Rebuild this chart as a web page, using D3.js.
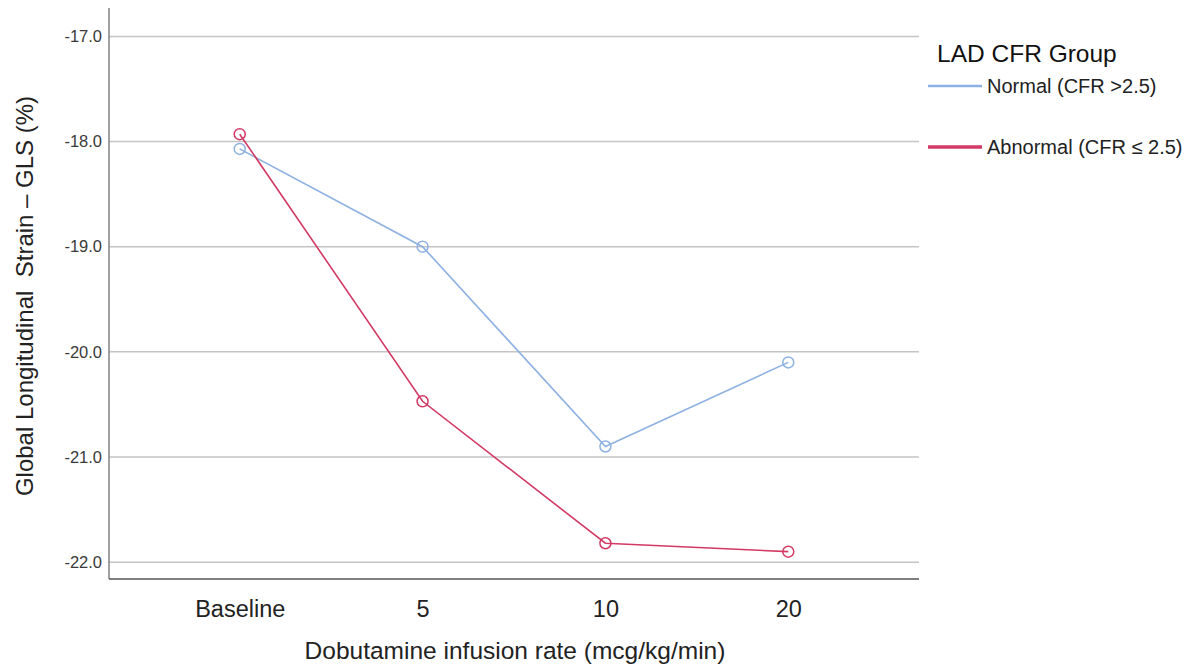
<!DOCTYPE html>
<html>
<head>
<meta charset="utf-8">
<script src="https://cdn.jsdelivr.net/npm/d3@7"></script>
<style>
  body { margin: 0; background: #fff; }
  text { font-family: "Liberation Sans", Arial, Helvetica, sans-serif; }
</style>
</head>
<body>
<svg id="chart" width="1191" height="671"></svg>
<script>
// Dobutamine stages (x categories)
const stages = ["Baseline", "5", "10", "20"];
// Mean GLS (%) per stage for each LAD CFR group
const normalGLS = [-18.07, -19.00, -20.90, -20.10];
const abnormalGLS = [-17.93, -20.47, -21.82, -21.90];
// Y tick values
const yTicks = [-17, -18, -19, -20, -21, -22];
const seriesNames = ["Normal (CFR >2.5)", "Abnormal (CFR \u2264 2.5)"];
const seriesColors = ["#8db1e2", "#d23a64"];

const svg = d3.select("#chart");
const plotL = 109, plotR = 919, plotT = 8, plotB = 579;

const x = d3.scalePoint().domain(stages).range([plotL, plotR]).padding(0.715);
const y = d3.scaleLinear().domain([-22.16, -16.73]).range([plotB, plotT]);

// Horizontal gridlines
svg.append("g").selectAll("line").data(yTicks).join("line")
  .attr("x1", plotL).attr("x2", plotR)
  .attr("y1", d => y(d)).attr("y2", d => y(d))
  .attr("stroke", "#c4c4c4").attr("stroke-width", 1.5);

// Y axis (plain hyphen for the sign, one decimal)
const yAxis = svg.append("g").attr("transform", `translate(${plotL},0)`)
  .call(d3.axisLeft(y).tickValues(yTicks).tickSize(0).tickPadding(7).tickFormat(d => d.toFixed(1)));
yAxis.select(".domain").remove();
yAxis.selectAll("text").attr("font-size", 16.5).attr("fill", "#3a3a3a")
  .style("font-family", "'Liberation Sans', Arial, sans-serif");
svg.append("line").attr("x1", plotL).attr("x2", plotL).attr("y1", plotT).attr("y2", plotB)
  .attr("stroke", "#8a8a8a").attr("stroke-width", 1.6);

// X axis
const xAxis = svg.append("g").attr("transform", `translate(0,${plotB})`)
  .call(d3.axisBottom(x).tickSize(0).tickPadding(21));
xAxis.select(".domain").remove();
xAxis.selectAll("text").attr("font-size", 23.5).attr("fill", "#222")
  .style("font-family", "'Liberation Sans', Arial, sans-serif");
svg.append("line").attr("x1", plotL).attr("x2", plotR).attr("y1", plotB).attr("y2", plotB)
  .attr("stroke", "#555").attr("stroke-width", 1.6);

// Axis titles
svg.append("text").attr("x", 515).attr("y", 659).attr("text-anchor", "middle")
  .attr("font-size", 24.5).attr("fill", "#222")
  .text("Dobutamine infusion rate (mcg/kg/min)");
svg.append("text").attr("transform", "translate(33,296) rotate(-90)").attr("text-anchor", "middle")
  .attr("font-size", 24).attr("fill", "#222").attr("xml:space", "preserve")
  .text("Global Longitudinal  Strain \u2013 GLS (%)");

// Series lines and markers
const series = [normalGLS, abnormalGLS];
const line = d3.line().x((d, i) => x(stages[i])).y(d => y(d));
series.forEach((vals, s) => {
  svg.append("path").datum(vals).attr("d", line)
    .attr("fill", "none").attr("stroke", seriesColors[s]).attr("stroke-width", 1.6);
  svg.append("g").selectAll("circle").data(vals).join("circle")
    .attr("cx", (d, i) => x(stages[i])).attr("cy", d => y(d)).attr("r", 5.5)
    .attr("fill", "none").attr("stroke", seriesColors[s]).attr("stroke-width", 1.5);
});

// Legend
const legend = svg.append("g");
legend.append("text").attr("x", 937).attr("y", 62).attr("font-size", 24.5).attr("fill", "#111")
  .text("LAD CFR Group");
const legendY = [86, 147];
seriesNames.forEach((name, s) => {
  legend.append("line").attr("x1", 928).attr("x2", 982).attr("y1", legendY[s]).attr("y2", legendY[s])
    .attr("stroke", seriesColors[s]).attr("stroke-width", s === 0 ? 2.5 : 3.5);
  legend.append("text").attr("x", 987).attr("y", legendY[s] + 7).attr("font-size", 20).attr("fill", "#222")
    .text(name);
});
</script>
</body>
</html>
